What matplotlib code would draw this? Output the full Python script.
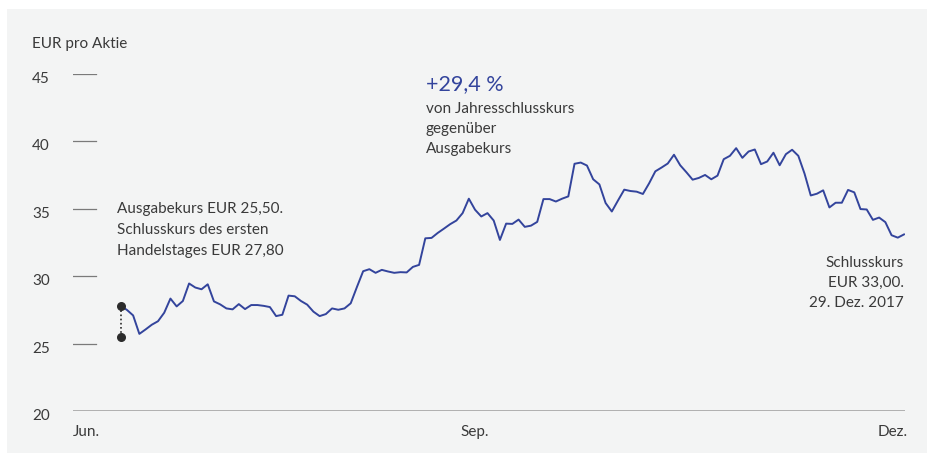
import matplotlib

matplotlib.use("Agg")

import matplotlib.pyplot as plt
from matplotlib.patches import Rectangle

W, H = 928, 453
BLUE = "#33449c"
TEXT = "#3a3a3a"
PANEL = "#f3f4f4"
FS = 11

# daily closing prices (EUR), first trading day to 29 Dec 2017
close = [
    27.80, 27.50, 27.09, 25.72, 26.05, 26.40, 26.66, 27.29, 28.34, 27.76,
    28.16, 29.46, 29.16, 29.03, 29.40, 28.13, 27.91, 27.61, 27.54, 27.93,
    27.56, 27.86, 27.86, 27.80, 27.71, 27.04, 27.14, 28.56, 28.51, 28.16,
    27.89, 27.37, 27.04, 27.19, 27.61, 27.51, 27.61, 27.99, 29.20, 30.37,
    30.52, 30.25, 30.47, 30.35, 30.25, 30.30, 30.28, 30.69, 30.84, 32.81,
    32.84, 33.21, 33.53, 33.86, 34.13, 34.68, 35.75, 34.93, 34.43, 34.68,
    34.13, 32.69, 33.90, 33.88, 34.20, 33.66, 33.75, 34.03, 35.72, 35.72,
    35.54, 35.75, 35.92, 38.34, 38.43, 38.21, 37.19, 36.81, 35.43, 34.80,
    35.62, 36.42, 36.32, 36.27, 36.10, 36.89, 37.78, 38.06, 38.36, 39.01,
    38.23, 37.71, 37.16, 37.29, 37.51, 37.19, 37.46, 38.68, 38.93, 39.50,
    38.78, 39.25, 39.40, 38.31, 38.51, 39.16, 38.23, 39.05, 39.38, 38.93,
    37.61, 35.99, 36.12, 36.37, 35.10, 35.45, 35.45, 36.40, 36.22, 34.98,
    34.95, 34.18, 34.35, 34.01, 33.04, 32.86, 33.10,
]
ipo_price = 25.50
first_close = 27.80

y_ticks = [20, 25, 30, 35, 40, 45]
x_labels = ["Jun.", "Sep.", "Dez."]


def fx(px):
    return px / W


def fy(py):
    return 1 - py / H


plt.rcParams["font.family"] = ["Lato", "DejaVu Sans"]

fig = plt.figure(figsize=(W / 100, H / 100), dpi=100)
fig.patch.set_facecolor("white")
fig.patches.append(Rectangle((fx(7), 0), 1, fy(9), transform=fig.transFigure,
                             facecolor=PANEL, edgecolor="none", zorder=-1))

# axes: x 73..905 px, y=20 at 411 px, y=45 at 74 px
ax = fig.add_axes([fx(73), fy(411), fx(905 - 73), (411 - 74) / H])
ax.set_zorder(2)
ax.set_facecolor("none")
for s in ax.spines.values():
    s.set_visible(False)
ax.set_xticks([])
ax.set_yticks([])

n = len(close)
step = (904 - 120.7) / (n - 1)
ax.set_xlim((73 - 120.7) / step, (905 - 120.7) / step)
ax.set_ylim(20, 45)
xs = list(range(n))

# short grid stubs and the baseline
for y in y_ticks:
    if y == 20:
        ax.axhline(y, color="#a9a9a9", lw=2, zorder=1)
    else:
        ax.axhline(y, xmin=0, xmax=23 / 832, color="#7a7a7a", lw=0.9, zorder=1)
    fig.text(fx(32), fy(411 - (y - 20) * 13.48 + 5), str(y), ha="left", va="center",
             fontsize=FS, color=TEXT)

ax.plot(xs, close, color=BLUE, lw=1.4, zorder=3)

ax.plot([xs[0], xs[0]], [ipo_price, first_close], color="#2b2b2b", lw=1.2,
        ls=(0, (1, 1.5)), zorder=4)
ax.scatter([xs[0], xs[0]], [ipo_price, first_close], s=30, color="#2b2b2b", zorder=5)

fig.text(fx(32), fy(44), "EUR pro Aktie", ha="left", va="center", fontsize=FS, color=TEXT)

fig.text(fx(73), fy(432), x_labels[0], ha="left", va="center", fontsize=FS, color=TEXT)
fig.text(fx(475), fy(432), x_labels[1], ha="center", va="center", fontsize=FS, color=TEXT)
fig.text(fx(908), fy(432), x_labels[2], ha="right", va="center", fontsize=FS, color=TEXT)

fig.text(fx(117), fy(230), "Ausgabekurs EUR 25,50.\nSchlusskurs des ersten\nHandelstages EUR 27,80",
         ha="left", va="center", fontsize=FS, color=TEXT, linespacing=1.6)

fig.text(fx(426), fy(84), "+29,4 %", ha="left", va="center", fontsize=15.5, color=BLUE)
fig.text(fx(426), fy(129), "von Jahresschlusskurs\ngegenüber\nAusgabekurs",
         ha="left", va="center", fontsize=FS, color=TEXT, linespacing=1.55)

fig.text(fx(904), fy(283), "Schlusskurs\nEUR 33,00.\n29. Dez. 2017",
         ha="right", va="center", fontsize=FS, color=TEXT, linespacing=1.55)

fig.savefig("out.png", dpi=100, facecolor="white")
